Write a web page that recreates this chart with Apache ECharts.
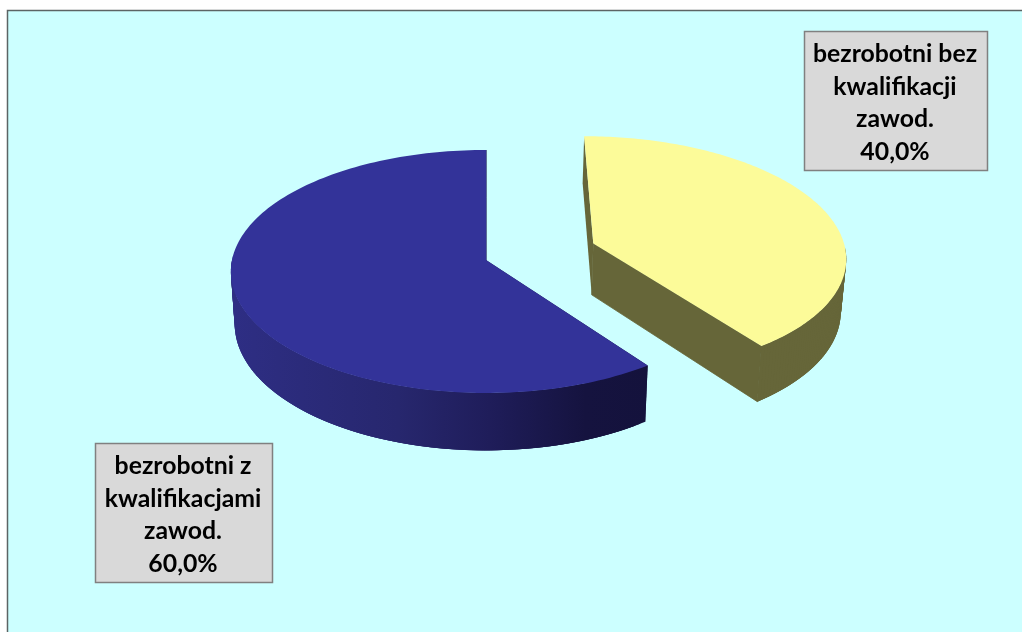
<!DOCTYPE html>
<html>
<head>
<meta charset="utf-8">
<style>html,body{margin:0;padding:0;background:#fff}#c{width:1022px;height:632px}</style>
<script src="https://cdn.jsdelivr.net/npm/echarts@6/dist/echarts.min.js"></script>
</head>
<body>
<div id="c"></div>
<script>
var categories = ['bezrobotni bez\nkwalifikacji\nzawod.', 'bezrobotni z\nkwalifikacjami\nzawod.'];
var values = [40, 60];
var explode = [0.45, 0];
var topColors = ['#fcfb99', '#333399'];

// view of the tilted disc
var CX = 486, CY = 260, SX = 254, SY = 120.4, K = 0.0946, DEPTH = 52, SHRINK = 0.985;
var boxes = [[804, 31, 183, 139], [95, 443, 177, 139]];
var total = values.reduce(function (a, b) { return a + b; }, 0);

function topPoint(u, v) {
  var w = 1 - K * v;
  return [CX + SX * u / w, CY + SY * v / w];
}
function bottomPoint(u, v) {
  var w = 1 - K * v;
  return [CX + SHRINK * SX * u / w, CY + (SY * v + DEPTH) / w];
}
function wallFill(i) {
  if (i === 0) return '#666639';
  return new echarts.graphic.LinearGradient(231, 0, 648, 0, [
    { offset: 0, color: '#2e2e84' },
    { offset: 0.4, color: '#27276e' },
    { offset: 0.62, color: '#1f1d5a' },
    { offset: 0.85, color: '#15133f' },
    { offset: 1, color: '#14123c' }
  ], true);
}
function poly(points, fill, z2, seal) {
  var style = { fill: fill };
  if (seal) { style.stroke = fill; style.lineWidth = 0.8; }
  return { type: 'polygon', z2: z2, shape: { points: points }, style: style };
}

var chart = echarts.init(document.getElementById('c'), null, { renderer: 'canvas' });
chart.setOption({
  animation: false,
  backgroundColor: '#ffffff',
  graphic: [{
    type: 'rect', z: -1,
    shape: { x: 7.5, y: 10.5, width: 1100, height: 700 },
    style: { fill: '#ccffff', stroke: '#5c6464', lineWidth: 1.5 }
  }],
  series: [{
    type: 'custom',
    coordinateSystem: 'none',
    data: values,
    renderItem: function (params, api) {
      var i = params.dataIndex, before = 0;
      for (var j = 0; j < i; j++) before += values[j];
      var a0 = before / total * 2 * Math.PI;
      var a1 = (before + values[i]) / total * 2 * Math.PI;
      var mid = (a0 + a1) / 2;
      var ox = explode[i] * Math.sin(mid), oy = -explode[i] * Math.cos(mid);
      var arc = [], angles = [], n = 160;
      for (var s = 0; s <= n; s++) {
        var a = a0 + (a1 - a0) * s / n;
        angles.push(a);
        arc.push([ox + Math.sin(a), oy - Math.cos(a)]);
      }
      var first = arc[0], last = arc[n];
      var apex = [ox, oy];
      function t(p) { return topPoint(p[0], p[1]); }
      function b(p) { return bottomPoint(p[0], p[1]); }
      var fill = wallFill(i);
      var children = [
        poly([t(first), t(apex), b(apex), b(first)], fill, 1),
        poly([t(apex), t(last), b(last), b(apex)], fill, 1, true)
      ];
      // outer wall, front part only; pieces overlap so no seams show
      for (var q = 0; q < n; q++) {
        if (Math.cos(angles[q]) > -0.02) continue;
        var e = Math.min(q + 3, n);
        children.push(poly([t(arc[q]), t(arc[e]), b(arc[e]), b(arc[q])], fill, 2));
      }
      var face = arc.map(t); face.push(t(apex));
      children.push(poly(face, topColors[i], 3));
      var box = boxes[i];
      var pct = (values[i] / total * 100).toFixed(1).replace('.', ',') + '%';
      children.push({
        type: 'rect', z2: 10,
        shape: { x: box[0] + 0.5, y: box[1] + 0.5, width: box[2], height: box[3] },
        style: { fill: '#d9d9d9', stroke: '#808080', lineWidth: 1.5 }
      });
      children.push({
        type: 'text', z2: 11,
        style: {
          x: box[0] + box[2] / 2 - 0.5, y: box[1] + box[3] / 2 + 2.5,
          text: categories[i] + '\n' + pct,
          align: 'center', verticalAlign: 'middle',
          font: 'bold 24.8px Lato, "Open Sans", sans-serif',
          lineHeight: 32.8, fill: '#000000'
        }
      });
      return { type: 'group', children: children };
    }
  }]
});
</script>
</body>
</html>
